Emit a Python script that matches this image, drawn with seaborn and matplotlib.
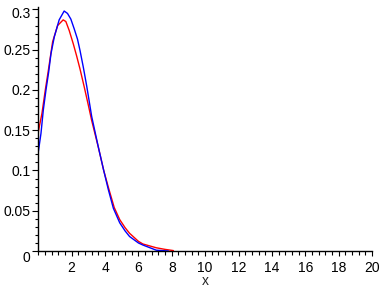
import numpy as np
import pandas as pd
import matplotlib
matplotlib.use("Agg")
import matplotlib.pyplot as plt
import matplotlib.transforms as mtransforms
from matplotlib.ticker import MultipleLocator, FixedLocator
import seaborn as sns

# ---- data ----
red_x = [0.0, 0.22, 0.42, 0.60, 0.86, 1.16, 1.49, 1.65, 1.85, 2.10, 2.30, 2.50, 2.75,
         3.00, 3.20, 3.62, 3.92, 4.20, 4.55, 4.88, 5.20, 5.47, 6.00, 6.27, 7.07, 7.60, 8.10]
red_y = [0.148, 0.171, 0.200, 0.224, 0.260, 0.280, 0.287, 0.285, 0.274, 0.257, 0.242,
         0.226, 0.204, 0.181, 0.162, 0.127, 0.100, 0.079, 0.054, 0.039, 0.029, 0.022,
         0.012, 0.0087, 0.004, 0.002, 0.0005]

blue_x = [0.0, 0.16, 0.30, 0.46, 0.62, 0.76, 0.96, 1.25, 1.55, 1.75, 1.95, 2.15, 2.35,
          2.50, 2.70, 2.90, 3.20, 3.62, 3.92, 4.20, 4.50, 4.88, 5.20, 5.47, 6.00, 6.27,
          7.07, 7.80]
blue_y = [0.123, 0.146, 0.175, 0.200, 0.222, 0.245, 0.266, 0.287, 0.298, 0.295, 0.288,
          0.276, 0.263, 0.249, 0.228, 0.205, 0.167, 0.127, 0.100, 0.076, 0.053, 0.035,
          0.025, 0.018, 0.010, 0.0074, 0.001, 0.0]

x_ticks = [2, 4, 6, 8, 10, 12, 14, 16, 18, 20]
y_ticks = [0, 0.05, 0.1, 0.15, 0.2, 0.25, 0.3]
y_tick_labels = ["0", "0.05", "0.1", "0.15", "0.2", "0.25", "0.3"]
x_label = "x"

sns.set_style("white")
plt.rcParams["font.family"] = ["Liberation Sans", "DejaVu Sans"]
plt.rcParams["font.size"] = 10

df_red = pd.DataFrame({"x": red_x, "y": red_y})
df_blue = pd.DataFrame({"x": blue_x, "y": blue_y})

fig = plt.figure(figsize=(3.88, 2.88), dpi=100)
ax = fig.add_axes([38.3 / 388, 37 / 288, 333.7 / 388, 244 / 288])

sns.lineplot(data=df_red, x="x", y="y", ax=ax, color="#ff0000", linewidth=1.0,
             sort=False, estimator=None)
sns.lineplot(data=df_blue, x="x", y="y", ax=ax, color="#0000ff", linewidth=1.0,
             sort=False, estimator=None)

ax.set_xlim(0, 20)
ax.set_ylim(0, 0.303)

for s in ["top", "right"]:
    ax.spines[s].set_visible(False)
for s in ["left", "bottom"]:
    ax.spines[s].set_color("black")
    ax.spines[s].set_linewidth(1.0)

ax.xaxis.set_major_locator(FixedLocator(x_ticks))
ax.set_xticklabels([str(t) for t in x_ticks])
ax.xaxis.set_minor_locator(MultipleLocator(0.4))
ax.yaxis.set_major_locator(FixedLocator(y_ticks))
ax.set_yticklabels(y_tick_labels)
ax.yaxis.set_minor_locator(MultipleLocator(0.01))

ax.tick_params(axis="both", which="both", direction="out", color="black",
               width=0.8, labelsize=10, labelcolor="black")
ax.tick_params(axis="x", which="major", length=3.5, pad=4)
ax.tick_params(axis="x", which="minor", length=3.0)
ax.tick_params(axis="y", which="major", length=4.0, pad=1.5)
ax.tick_params(axis="y", which="minor", length=2.5)
ax.tick_params(bottom=True, left=True, which="both")

# small shifts like the reference
labels = ax.get_yticklabels()
off0 = mtransforms.ScaledTranslation(0, -6 / 100, fig.dpi_scale_trans)
labels[0].set_transform(labels[0].get_transform() + off0)
off3 = mtransforms.ScaledTranslation(0, -3 / 100, fig.dpi_scale_trans)
labels[-1].set_transform(labels[-1].get_transform() + off3)

ax.set_xlabel(x_label, fontsize=10, labelpad=-1.0)
ax.set_ylabel("")
ax.grid(False)

fig.savefig("out.png", dpi=100)
